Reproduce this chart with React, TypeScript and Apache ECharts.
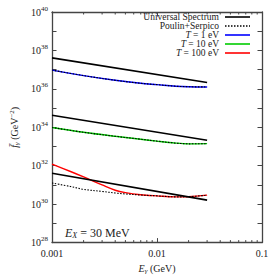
import React, { useEffect, useRef } from "react";
import * as echarts from "echarts";

// ---- data ----
const eUni = [0.001, 0.03];
const universal1 = [4.1e37, 2.15e36];
const universal10 = [4.2e34, 2.1e33];
const universal100 = [4.1e31, 1.62e30];

const eT = [0.001, 0.002, 0.004, 0.007, 0.01, 0.015, 0.02, 0.03];
const t1 = [9.5e36, 4.9e36, 2.8e36, 1.95e36, 1.66e36, 1.38e36, 1.29e36, 1.26e36];
const t10 = [9.8e33, 5.5e33, 3.4e33, 2.4e33, 1.9e33, 1.51e33, 1.38e33, 1.41e33];
const poulin1 = [9.5e36, 4.9e36, 2.8e36, 1.95e36, 1.66e36, 1.38e36, 1.29e36, 1.26e36];
const poulin10 = [9.8e33, 5.5e33, 3.4e33, 2.4e33, 1.9e33, 1.51e33, 1.38e33, 1.41e33];

const eR = [0.001, 0.0015, 0.002, 0.003, 0.004, 0.005, 0.007, 0.01, 0.015, 0.02, 0.03];
const t100 = [1.2e32, 5.0e31, 2.6e31, 1.0e31, 5.3e30, 4.0e30, 3.1e30, 2.7e30, 2.4e30, 2.45e30, 2.95e30];
const poulin100 = [1.26e31, 8.3e30, 5.9e30, 4.6e30, 3.8e30, 3.4e30, 3.0e30, 2.7e30, 2.4e30, 2.45e30, 2.95e30];

const xTickLabels: Record<string, string> = { "-3": "0.001", "-2": "0.01", "-1": "0.1" };
const xMinorTicks = [0.002, 0.003, 0.004, 0.005, 0.006, 0.007, 0.008, 0.009, 0.02, 0.03, 0.04, 0.05, 0.06, 0.07, 0.08, 0.09];

const legendItems = [
  { text: "Universal Spectrum", color: "#000", type: "solid" },
  { text: "Poulin+Serpico", color: "#000", type: "dotted" },
  { text: "{i|T} = 1 eV", color: "#0000ff", type: "solid" },
  { text: "{i|T} = 10 eV", color: "#00cc00", type: "solid" },
  { text: "{i|T} = 100 eV", color: "#ff0000", type: "solid" },
];

const FONT = "Liberation Serif";
const AX = "#444";

const pair = (xs: number[], ys: number[]) => xs.map((x, i) => [x, ys[i]]);

export default function App() {
  const ref = useRef<HTMLDivElement>(null);
  useEffect(() => {
    if (!ref.current) return;
    const chart = echarts.init(ref.current, null, { renderer: "svg" });
    const blackLine = (name: string, data: number[][]) => ({
      type: "line", name, data, showSymbol: false, symbol: "none",
      lineStyle: { color: "#000", width: 1.6 }, z: 3,
    });
    const colLine = (name: string, data: number[][], color: string) => ({
      type: "line", name, data, showSymbol: false, symbol: "none", smooth: 0.35,
      lineStyle: { color, width: 1.4 }, z: 3,
    });
    const dotLine = (name: string, data: number[][]) => ({
      type: "line", name, data, showSymbol: false, symbol: "none", smooth: 0.35,
      lineStyle: { color: "#000", width: 1.1, type: [1.5, 1.5] }, z: 4,
    });
    const legendGraphics: any[] = [];
    legendItems.forEach((it, i) => {
      const y = 17 + i * 9;
      legendGraphics.push({
        type: "text", x: 219, y,
        style: {
          text: it.text, textAlign: "right", textVerticalAlign: "middle",
          fontFamily: FONT, fontSize: 9.5, lineHeight: 8.5, fill: "#222",
          rich: { i: { fontStyle: "italic", fontFamily: FONT, fontSize: 9.5, lineHeight: 8.5, fill: "#222" } },
        },
      });
      legendGraphics.push({
        type: "line", shape: { x1: 225, y1: y, x2: 250, y2: y },
        style: { stroke: it.color, lineWidth: it.type === "dotted" ? 1.3 : 1.6, lineDash: it.type === "dotted" ? [1.5, 1.5] : null },
      });
    });
    legendGraphics.push({
      type: "text", x: 65, y: 233,
      style: {
        text: "{i|E}{s|X} = 30 MeV", textVerticalAlign: "middle",
        fontFamily: FONT, fontSize: 12, fill: "#222",
        rich: {
          i: { fontStyle: "italic", fontFamily: FONT, fontSize: 12, fill: "#222" },
          s: { fontStyle: "italic", fontFamily: FONT, fontSize: 8, fill: "#222", padding: [4, 0, 0, 0] },
        },
      },
    });

    const option: any = {
      animation: false,
      grid: { left: 45, top: 12, right: 17, bottom: 30 },
      xAxis: [
        {
          type: "log", logBase: 10, min: 0.001, max: 0.1, interval: 1,
          axisLine: { lineStyle: { color: AX, width: 1.3 } },
          axisTick: { inside: true, length: 4.5, lineStyle: { color: AX } },
          splitLine: { show: false },
          axisLabel: {
            fontFamily: FONT, fontSize: 10, color: "#222", margin: 6,
            formatter: (v: number) => xTickLabels[String(Math.round(Math.log10(v)))] || "",
          },
          name: "{i|E}{s|γ} (GeV)", nameLocation: "middle", nameGap: 19,
          nameTextStyle: {
            fontFamily: FONT, fontSize: 10, color: "#222",
            rich: {
              i: { fontStyle: "italic", fontFamily: FONT, fontSize: 10, color: "#222" },
              s: { fontStyle: "italic", fontFamily: FONT, fontSize: 7, color: "#222", padding: [4, 0, 0, 0] },
            },
          },
        },
        {
          type: "log", logBase: 10, min: 0.001, max: 0.1, interval: 1, position: "top",
          axisLine: { lineStyle: { color: AX, width: 1.3 } },
          axisTick: { inside: true, length: 4.5, lineStyle: { color: AX } },
          axisLabel: { show: false }, splitLine: { show: false },
        },
      ],
      yAxis: [
        {
          type: "log", logBase: 10, min: 1e28, max: 1e40, interval: 1,
          axisLine: { show: true, lineStyle: { color: AX, width: 1.3 } },
          axisTick: { show: true, inside: true, length: 4.5, lineStyle: { color: AX } },
          splitLine: { show: false },
          axisLabel: {
            fontFamily: FONT, fontSize: 10, color: "#222", margin: 4,
            formatter: (v: number) => {
              const e = Math.round(Math.log10(v));
              return e % 2 === 0 ? `{b|10}{s|${e}}` : "";
            },
            rich: {
              b: { fontFamily: FONT, fontSize: 10, color: "#222" },
              s: { fontFamily: FONT, fontSize: 7, color: "#222", padding: [0, 0, 7, 0] },
            },
          },
          name: "{i|f̄}{s|γ} (GeV{u|−2})", nameLocation: "middle", nameGap: 31, nameRotate: 90,
          nameTextStyle: {
            fontFamily: FONT, fontSize: 10, color: "#222",
            rich: {
              i: { fontStyle: "italic", fontFamily: FONT, fontSize: 10, color: "#222" },
              s: { fontStyle: "italic", fontFamily: FONT, fontSize: 7, color: "#222", padding: [4, 0, 0, 0] },
              u: { fontFamily: FONT, fontSize: 7, color: "#222", padding: [0, 0, 6, 0] },
            },
          },
        },
        {
          type: "log", logBase: 10, min: 1e28, max: 1e40, interval: 1, position: "right",
          axisLine: { show: true, lineStyle: { color: AX, width: 1.3 } },
          axisTick: { show: true, inside: true, length: 4.5, lineStyle: { color: AX } },
          axisLabel: { show: false }, splitLine: { show: false },
        },
      ],
      series: [
        colLine("T = 1 eV", pair(eT, t1), "#0000ff"),
        colLine("T = 10 eV", pair(eT, t10), "#00cc00"),
        colLine("T = 100 eV", pair(eR, t100), "#ff0000"),
        dotLine("Poulin+Serpico 1", pair(eT, poulin1)),
        dotLine("Poulin+Serpico 10", pair(eT, poulin10)),
        dotLine("Poulin+Serpico 100", pair(eR, poulin100)),
        blackLine("Universal Spectrum 1", pair(eUni, universal1)),
        blackLine("Universal Spectrum 10", pair(eUni, universal10)),
        blackLine("Universal Spectrum 100", pair(eUni, universal100)),
        {
          type: "custom", name: "minorTicks", silent: true, clip: false, z: 5,
          data: xMinorTicks.map((v) => [v, 1e28]),
          renderItem: (_p: any, api: any) => {
            const v = api.value(0);
            const b = api.coord([v, 1e28]);
            const t = api.coord([v, 1e40]);
            return {
              type: "group",
              children: [
                { type: "line", shape: { x1: b[0], y1: b[1], x2: b[0], y2: b[1] - 2.5 }, style: { stroke: AX, lineWidth: 1 } },
                { type: "line", shape: { x1: t[0], y1: t[1], x2: t[0], y2: t[1] + 2.5 }, style: { stroke: AX, lineWidth: 1 } },
              ],
            };
          },
        },
      ],
      graphic: legendGraphics,
    };
    chart.setOption(option);
    return () => chart.dispose();
  }, []);
  return <div ref={ref} style={{ position: "fixed", left: 0, top: 0, width: 279, height: 279, background: "#fff" }} />;
}
